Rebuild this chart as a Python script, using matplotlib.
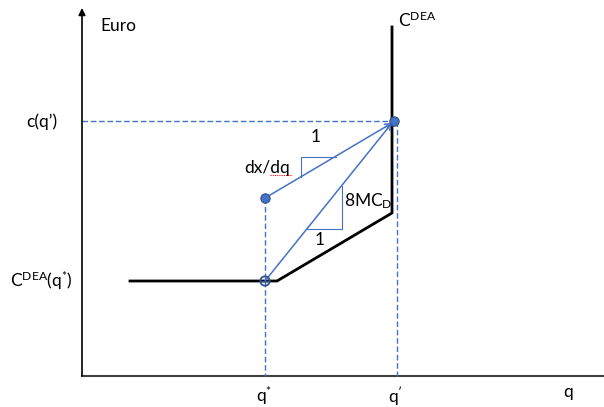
import numpy as np
import matplotlib.pyplot as plt

plt.rcParams['font.family'] = ['Lato', 'DejaVu Sans']
plt.rcParams['mathtext.fontset'] = 'custom'
plt.rcParams['mathtext.rm'] = 'Lato'
plt.rcParams['mathtext.it'] = 'Lato'

### diagram is laid out in picture units (x right, y down)
blue = '#4472C4'
dark_blue = '#2F528F'

### axes of the diagram
origin = (82, 376)
x_end = 604
y_top = 8

### DEA cost frontier (black)
frontier_x = [130, 277, 392, 392]
frontier_y = [281, 281, 213, 27]

### points: (q*, C(q*)), (q*, c + dx/dq), (q', c(q'))
q_star, q_prime = 265, 395
c_star, c_mid, c_prime = 281, 198, 121

### rise/run triangles
tri_upper_x = [301, 301, 336]
tri_upper_y = [177, 157, 157]
tri_lower_x = [307, 342, 342]
tri_lower_y = [229, 229, 186]

fig = plt.figure(figsize=(6.04, 4.07), dpi=100)
ax = fig.add_axes([0, 0, 1, 1])
ax.set_xlim(0, 604)
ax.set_ylim(407, 0)
ax.axis('off')

### axes with arrow heads
ax.annotate('', xy=(origin[0], y_top), xytext=(origin[0], origin[1]),
            arrowprops=dict(arrowstyle='-|>', color='black', lw=1.2,
                            mutation_scale=10, shrinkA=0, shrinkB=0))
ax.plot([origin[0], x_end], [origin[1], origin[1]], color='#404040', lw=1.5)

### dashed guides
ax.plot([origin[0], q_prime - 1], [c_prime, c_prime], color=blue, lw=1, ls=(0, (4, 2)))
ax.plot([q_star, q_star], [c_mid, origin[1]], color=blue, lw=1, ls=(0, (4, 2)))
ax.plot([q_prime + 2, q_prime + 2], [c_prime, origin[1]], color=blue, lw=1, ls=(0, (4, 2)))

### frontier
ax.plot(frontier_x, frontier_y, color='black', lw=2, solid_joinstyle='miter')

### arrows
for y0 in [c_mid, c_star]:
    ax.annotate('', xy=(q_prime - 3, c_prime + 2), xytext=(q_star, y0),
                arrowprops=dict(arrowstyle='->', color=blue, lw=1.1,
                                mutation_scale=10, shrinkA=0, shrinkB=0))

### triangles
ax.plot(tri_upper_x, tri_upper_y, color=blue, lw=0.8)
ax.plot(tri_lower_x, tri_lower_y, color=blue, lw=0.8)

### points
ax.scatter([q_star, q_prime - 1], [c_mid, c_prime], s=45, color=blue,
           edgecolors=dark_blue, linewidths=0.8, zorder=5)
ax.scatter([q_star], [c_star], s=45, facecolors='none', edgecolors=dark_blue,
           linewidths=1.3, zorder=5)
ax.plot([q_star - 4, q_star + 4], [c_star, c_star], color=dark_blue, lw=1, zorder=5)

### labels
fs = 12.5
ax.text(100, 26, 'Euro', fontsize=fs, va='center', ha='left')
ax.text(26, 122, 'c(q\u2019)', fontsize=fs, va='center', ha='left')
ax.text(10, 281, 'C$^{\\mathrm{DEA}}$(q$^{*}$)', fontsize=fs, va='center', ha='left')
ax.text(398, 20, 'C$^{\\mathrm{DEA}}$', fontsize=fs, va='center', ha='left')
ax.text(316, 137, '1', fontsize=fs, va='center', ha='center')
ax.text(244, 168, 'dx/dq', fontsize=fs, va='center', ha='left')
ax.plot([270, 292], [175, 175], color='red', lw=0.8, ls=(0, (1, 1)))
ax.text(344, 201, '8MC$_{\\mathrm{D}}$', fontsize=fs, va='center', ha='left')
ax.text(320, 240, '1', fontsize=fs, va='center', ha='center')
ax.text(264, 396, 'q$^{*}$', fontsize=fs, va='center', ha='center')
ax.text(396, 396, 'q$^{\\prime}$', fontsize=fs, va='center', ha='center')
ax.text(568, 392, 'q', fontsize=fs, va='center', ha='center')

fig.savefig('out.png', dpi=100)
